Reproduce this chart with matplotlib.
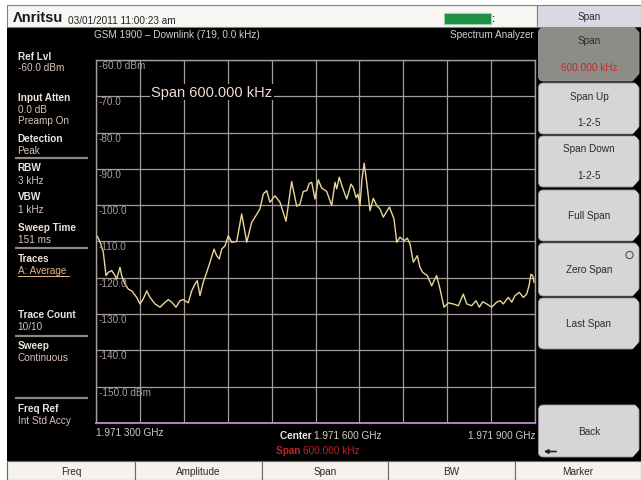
import matplotlib
matplotlib.use("Agg")
import matplotlib.pyplot as plt
from matplotlib.patches import Rectangle, FancyBboxPatch, Polygon, Circle
import numpy as np

W, H = 641, 481

# ---- sweep settings ----
start_mhz = 1971.300
span_khz = 600.0
ref_level = -60.0
db_per_div = 10.0
n_div = 10

# ---- averaged trace: offset from start frequency (kHz) and level (dBm) ----
freq_offset_khz = [
    1.8, 5.5, 10.0, 13.7, 16.8, 21.5, 26.0, 28.3, 32.8, 35.1, 39.6, 44.1, 48.8,
    55.6, 60.1, 64.6, 69.3, 73.8, 80.6, 87.5, 92.0, 98.8, 103.5, 109.3, 114.8,
    119.3, 126.1, 130.8, 135.3, 138.4, 142.1, 146.6, 151.3, 155.8, 161.3, 164.9,
    168.5, 171.8, 176.3, 180.8, 185.5, 192.3, 199.1, 206.0, 212.8, 217.3, 224.1,
    228.7, 233.3, 237.8, 244.6, 251.5, 259.7, 267.4, 274.3, 278.8, 283.3, 288.0,
    291.5, 294.8, 299.3, 303.8, 308.5, 315.3, 322.1, 326.7, 329.0, 332.5, 336.0,
    342.7, 348.5, 351.6, 355.4, 358.0, 360.8, 363.5, 366.5, 370.0, 374.5, 379.0,
    383.6, 388.1, 392.6, 401.0, 407.3, 411.0, 415.5, 421.0, 425.5, 429.2, 433.7,
    439.1, 442.8, 446.5, 452.8, 458.8, 465.6, 470.2, 475.6, 481.5, 488.3, 495.2,
    502.0, 506.7, 513.5, 519.4, 523.9, 528.5, 534.0, 540.8, 547.7, 552.2, 556.7,
    563.5, 568.2, 572.7, 578.5, 584.0, 588.6, 591.8, 594.5, 596.8, 598.6,
]
level_dbm = [
    -108.6, -110.1, -113.0, -119.4, -118.5, -118.0, -119.4, -120.3, -117.1,
    -119.4, -121.7, -123.1, -123.6, -125.4, -127.2, -125.8, -123.6, -125.4,
    -127.2, -128.1, -127.2, -126.0, -126.7, -128.1, -126.3, -126.0, -126.9,
    -123.6, -121.7, -120.8, -124.9, -121.2, -118.5, -115.7, -112.1, -113.9,
    -114.8, -112.1, -111.2, -108.4, -110.2, -110.0, -102.4, -110.2, -104.7,
    -103.3, -101.0, -96.9, -96.0, -99.2, -97.4, -99.2, -104.4, -93.5, -100.3,
    -99.7, -96.2, -96.0, -94.0, -93.7, -98.3, -93.0, -95.3, -96.2, -100.1,
    -93.7, -95.5, -92.3, -94.6, -98.3, -94.2, -95.1, -97.9, -97.0, -100.1,
    -92.8, -88.4, -93.7, -101.5, -98.1, -100.1, -101.0, -103.3, -100.5, -103.8,
    -110.2, -108.8, -109.8, -109.1, -110.7, -115.7, -113.9, -117.1, -118.5,
    -119.4, -122.2, -119.4, -123.1, -128.1, -126.9, -127.2, -127.7, -124.5,
    -127.2, -127.7, -126.3, -128.1, -126.6, -127.2, -128.1, -126.7, -126.3,
    -127.2, -125.4, -126.7, -124.9, -124.0, -125.4, -124.5, -122.2, -119.0,
    -119.4, -121.2,
]

amp_labels = ["-60.0 dBm", "-70.0", "-80.0", "-90.0", "-100.0", "-110.0",
              "-120.0", "-130.0", "-140.0", "-150.0 dBm"]

status_items = [
    ("Ref Lvl", True), ("-60.0 dBm", False),
    ("Input Atten", True), ("0.0 dB", False), ("Preamp On", False),
    ("Detection", True), ("Peak", False),
    ("RBW", True), ("3 kHz", False),
    ("VBW", True), ("1 kHz", False),
    ("Sweep Time", True), ("151 ms", False),
    ("Traces", True), ("A: Average", False),
    ("Trace Count", True), ("10/10", False),
    ("Sweep", True), ("Continuous", False),
    ("Freq Ref", True), ("Int Std Accy", False),
]
status_rows = [57, 68, 98, 110, 121.5, 139, 151, 168.5, 181.5, 197, 210.5,
               228.5, 240, 259.5, 271.5, 315, 327, 346.5, 358, 409.5, 421.5]
separator_rows = [158.5, 249, 336.5, 399]

softkeys = [
    (["Span", "600.000 kHz"], 29, 82, True),
    (["Span Up", "1-2-5"], 84, 135, False),
    (["Span Down", "1-2-5"], 137, 188, False),
    (["Full Span"], 191, 242, False),
    (["Zero Span"], 244, 297, False),
    (["Last Span"], 299, 350, False),
    (["Back"], 406, 458, False),
]
tabs = ["Freq", "Amplitude", "Span", "BW", "Marker"]
tab_edges = [7, 135, 262, 388, 515, 641]

FONT = "Liberation Sans"
LABEL_C = "#ece4dc"
VALUE_C = "#d9c3ba"
GRID_C = "#a69c9a"


def ghz_text(mhz):
    """Format a frequency in MHz the way the instrument shows it (GHz, grouped)."""
    hz_k = int(round(mhz * 1000))          # kHz
    ghz = hz_k // 1000000
    mhz_part = (hz_k // 1000) % 1000
    khz_part = hz_k % 1000
    return f"{ghz}.{mhz_part:03d} {khz_part:03d} GHz"


fig = plt.figure(figsize=(W / 100, H / 100), dpi=100)
fig.patch.set_facecolor("white")

bg = fig.add_axes([0, 0, 1, 1], zorder=0)
bg.set_xlim(0, W)
bg.set_ylim(H, 0)
bg.axis("off")


def rect(x0, y0, x1, y1, **kw):
    bg.add_patch(Rectangle((x0, y0), x1 - x0, y1 - y0, **kw))


# screen body
rect(7, 27, W, 462, fc="black", ec="none")

# top status bar
rect(7, 6, 537, 27.5, fc="#f7f6f2", ec="#808080", lw=0.8)
bg.text(13, 18, "\u039bnritsu", fontsize=10.5, fontweight="bold",
        family=FONT, color="#1a1a1a", va="center", ha="left")
bg.text(68, 20.5, "03/01/2011 11:00:23 am", fontsize=7.2, family=FONT,
        color="#222222", va="center", ha="left")
rect(444, 14, 491, 25, fc="#1f8f45", ec="#9ad0a8", lw=0.8)
bg.text(493, 19.5, ":", fontsize=7, family=FONT, fontweight="bold",
        color="#333333", va="center", ha="center")

# softkey menu title
rect(537, 6, W, 27.5, fc="#d9dbe3", ec="#808080", lw=0.8)
bg.text(589, 17, "Span", fontsize=7.2, family=FONT, color="#2a2a2a",
        va="center", ha="center")

# header line above the graticule
bg.text(177, 34.5, "GSM 1900 \u2013 Downlink (719, 0.0 kHz)", fontsize=7.2,
        family=FONT, color="#d8cdc6", va="center", ha="center")
bg.text(534, 34.5, "Spectrum Analyzer", fontsize=7.2, family=FONT,
        color="#d8cdc6", va="center", ha="right")

# left status panel
for (txt, bold), yy in zip(status_items, status_rows):
    if txt == "A: Average":
        bg.text(17.5, yy, txt, fontsize=7.2, family=FONT, color="#e5b486",
                va="center", ha="left")
        bg.plot([17.5, 68.5], [yy + 5, yy + 5], color="#e5b486", lw=0.7)
    else:
        bg.text(17.5, yy, txt, fontsize=7.2, family=FONT,
                fontweight="bold" if bold else "normal",
                color=LABEL_C if bold else VALUE_C, va="center", ha="left")
for yy in separator_rows:
    bg.plot([15, 88], [yy, yy], color="#8e8884", lw=1.6, solid_capstyle="butt")

# softkeys
for lines, y0, y1, pressed in softkeys:
    fc = "#8d8c86" if pressed else "#d6d6d6"
    bg.add_patch(FancyBboxPatch((538.5, y0), 100.5, y1 - y0,
                                boxstyle="round,pad=0,rounding_size=5",
                                fc=fc, ec="#9a9a9a", lw=0.6))
    bg.add_patch(Polygon([[641, y1 - 9], [641, y1 + 0.5], [632, y1 + 0.5]],
                         closed=True, fc="black", ec="none"))
    bg.add_patch(Polygon([[641, y0 - 0.5], [641, y0 + 6], [635, y0 - 0.5]],
                         closed=True, fc="black", ec="none"))
    mid = 0.5 * (y0 + y1)
    if len(lines) == 2:
        bg.text(589, y0 + 12.5, lines[0], fontsize=7.2, family=FONT,
                color="#2a2a2a", va="center", ha="center")
        bg.text(589, y0 + 39, lines[1], fontsize=7.2, family=FONT,
                color="#c8282a" if pressed else "#2a2a2a",
                va="center", ha="center")
    else:
        bg.text(589, mid, lines[0], fontsize=7.2, family=FONT,
                color="#2a2a2a", va="center", ha="center")
    if lines[0] == "Zero Span":
        bg.add_patch(Circle((629.5, 256), 3.6, fc="none", ec="#555555", lw=0.8))
    if lines[0] == "Back":
        bg.annotate("", xy=(541, 452.5), xytext=(559, 452.5),
                    arrowprops=dict(arrowstyle="-|>", color="#222222", lw=1.2,
                                    mutation_scale=6))

# bottom tab bar
for i, name in enumerate(tabs):
    x0, x1 = tab_edges[i], tab_edges[i + 1]
    rect(x0, 462, x1, H, fc="#f5f1ed", ec="#6a6a6a", lw=0.8)
    bg.text(0.5 * (x0 + x1), 472, name, fontsize=7.2, family=FONT,
            color="#2a2a2a", va="center", ha="center")

# frequency annotations under the graticule
stop_mhz = start_mhz + span_khz / 1000
center_mhz = start_mhz + span_khz / 2000
bg.text(96, 433.5, ghz_text(start_mhz), fontsize=7.2, family=FONT,
        color="#d6ccc6", va="center", ha="left")
bg.text(535, 436, ghz_text(stop_mhz), fontsize=7.2, family=FONT,
        color="#d6ccc6", va="center", ha="right")
bg.text(314, 436, "Center ", fontsize=7.2, family=FONT, fontweight="bold",
        color="#f0ebe6", va="center", ha="right")
bg.text(314, 436, ghz_text(center_mhz), fontsize=7.2, family=FONT,
        color="#d6ccc6", va="center", ha="left")
bg.text(303, 451, "Span ", fontsize=7.2, family=FONT, fontweight="bold",
        color="#c42224", va="center", ha="right")
bg.text(303, 451, f"{span_khz:.3f} kHz", fontsize=7.2, family=FONT,
        color="#c42224", va="center", ha="left")

# ---- graticule and trace ----
ax = fig.add_axes([96 / W, 1 - 424 / H, 439 / W, 363 / H], zorder=2)
ax.set_facecolor("black")
ax.set_xlim(start_mhz, stop_mhz)
bottom = ref_level - db_per_div * n_div
ax.set_ylim(bottom, ref_level)
ax.set_xticks(np.linspace(start_mhz, stop_mhz, n_div + 1))
ax.set_yticks(np.linspace(bottom, ref_level, n_div + 1))
ax.grid(True, color=GRID_C, lw=0.9)
ax.set_axisbelow(True)
ax.tick_params(length=0, labelbottom=False, labelleft=False)
for name, sp in ax.spines.items():
    sp.set_color(GRID_C)
    sp.set_linewidth(1.0)
ax.spines["bottom"].set_color("#b77fc0")
ax.spines["bottom"].set_linewidth(1.4)

freqs = start_mhz + np.array(freq_offset_khz) / 1000.0
ax.plot(freqs, level_dbm, color="#e8d69a", lw=1.0, zorder=3)

for i, lab in enumerate(amp_labels):
    lvl = ref_level - i * db_per_div
    ax.annotate(lab, xy=(start_mhz, lvl), xycoords="data",
                xytext=(3, -5), textcoords="offset pixels",
                fontsize=7.2, family=FONT, color="#a9a09e",
                va="center", ha="left", zorder=4)

ax.text((151 - 96) / 439, (424 - 93) / 363, f"Span {span_khz:.3f} kHz",
        transform=ax.transAxes, fontsize=10.5, family=FONT,
        color="#f2ddd4", va="center", ha="left", zorder=5,
        bbox=dict(fc="black", ec="none", pad=1.0))

fig.savefig("out.png", dpi=100, facecolor=fig.get_facecolor())
